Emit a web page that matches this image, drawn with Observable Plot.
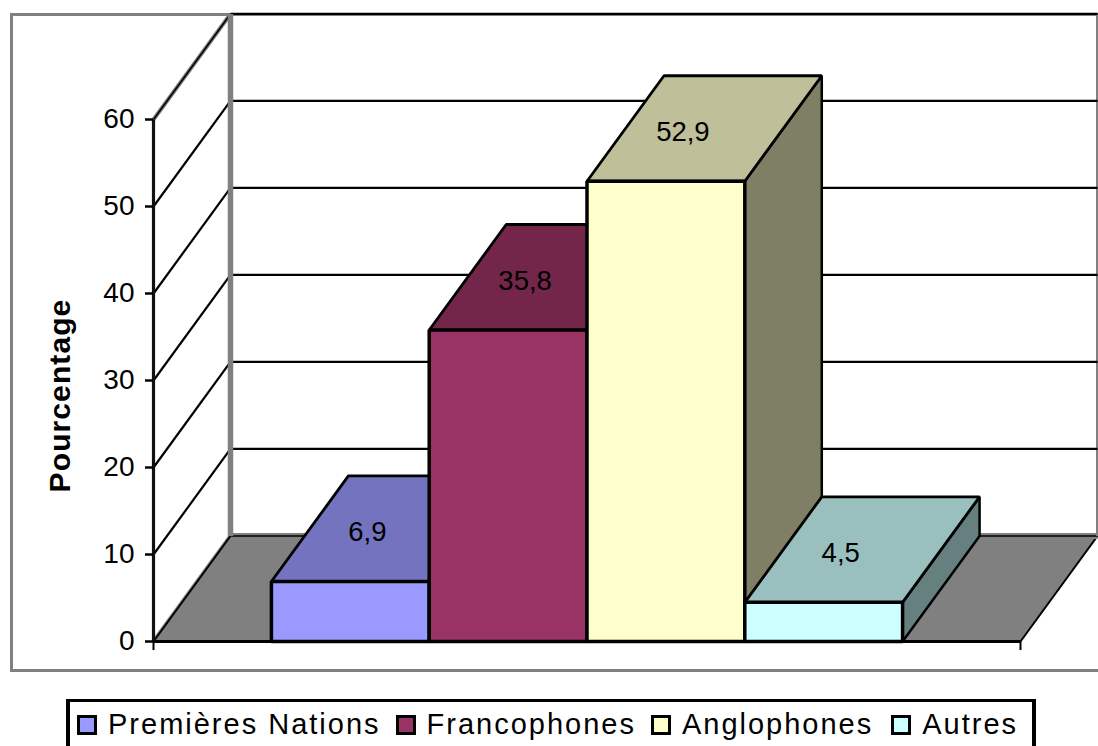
<!DOCTYPE html>
<html lang="fr">
<head>
<meta charset="utf-8">
<script src="https://cdn.jsdelivr.net/npm/d3@7"></script>
<script src="https://cdn.jsdelivr.net/npm/@observablehq/plot@0.6"></script>
<style>
html,body{margin:0;padding:0;background:#fff;width:1098px;height:746px;overflow:hidden;font-family:"Liberation Sans",Arial,sans-serif}
#wrap{position:relative;width:1098px;height:746px;overflow:hidden}
#outer{position:absolute;left:10px;top:13px;width:1100px;height:653px;border:3px solid #808080}
#chart{position:absolute;left:0;top:0}
#chart svg{display:block}
#legend{position:absolute;left:66px;top:699px;width:955px;height:60px;border:4px solid #000;border-width:3.5px 4px;display:flex;align-items:flex-start;padding:6px 0 0 7px;font-size:29px;letter-spacing:2px;line-height:32px;color:#000;white-space:nowrap}
.sw{width:14px;height:14px;border:3px solid #000;margin:7px 11px 0 0;flex:none}
.it{display:flex;margin-right:15px}
.it:nth-child(3){margin-right:18px}
</style>
</head>
<body>
<div id="wrap">
<div id="outer"></div>
<div id="chart"></div>
<div id="legend"></div>
</div>
<script>
const categories = ["Premières Nations", "Francophones", "Anglophones", "Autres"];
const values = [6.9, 35.8, 52.9, 4.5];
const frontColors = ["#9999FF", "#993366", "#FFFFCC", "#CCFFFF"];
const topColors = ["#7373BF", "#732649", "#BFBF99", "#99BFBF"];
const sideColors = ["#666680", "#4D1933", "#7F7F66", "#668080"];
const yTicks = [0, 10, 20, 30, 40, 50, 60];
const wallTicks = [10, 20, 30, 40, 50, 60];

// Oblique projection: a unit of depth shifts a point along both data axes
const depthX = 0.0888, depthY = 12.13;
const barWidth = 0.182, groupStart = 0.136;
const P = (x, v, d = 0) => ({x: x + d * depthX, y: v + d * depthY});
const poly = (pts, fill, stroke = "#000", strokeWidth = 2) =>
  Plot.line(pts, {x: "x", y: "y", fill, stroke, strokeWidth, curve: "linear-closed", strokeLinejoin: "miter"});
const seg = (pts, stroke = "#000", strokeWidth = 2) =>
  Plot.line(pts, {x: "x", y: "y", stroke, strokeWidth, strokeLinecap: "butt"});

const marks = [];
const topV = yTicks[yTicks.length - 1];
// floor
marks.push(poly([P(0,0,0),P(1,0,0),P(1,0,1),P(0,0,1)], "#808080", "#000", 2));
marks.push(seg([P(0,0,1),P(1,0,1)], "#808080", 6));
marks.push(seg([P(0,0,1),P(1,0,1)], "#000", 1.5));
marks.push(seg([P(1,0,1),P(1,topV,1)], "#808080", 3));
marks.push(seg([P(0,topV,0),P(0,topV,1)], "#808080", 4));
marks.push(seg([P(0,0,0),P(0,0,1)], "#808080", 4));
marks.push(seg([P(0,0,0),P(0,0,1)], "#000", 2));
// wall grid
for (const v of wallTicks) {
  marks.push(seg([P(0,v,0),P(0,v,1)], "#000", v === topV ? 1.5 : 2.2));
  marks.push(seg([P(0,v,1),P(1,v,1)], "#000", 2.2));
}
marks.push(seg([P(0,0,1),P(0,topV,1)], "#808080", 5.5));
// bars
categories.forEach((c, i) => {
  const x0 = groupStart + i * barWidth, x1 = x0 + barWidth, v = values[i];
  marks.push(poly([P(x1,0,0),P(x1,v,0),P(x1,v,1),P(x1,0,1)], sideColors[i], "#000", 2.5));
  marks.push(poly([P(x0,v,0),P(x1,v,0),P(x1,v,1),P(x0,v,1)], topColors[i], "#000", 2.8));
  marks.push(poly([P(x0,0),P(x1,0),P(x1,v),P(x0,v)], frontColors[i], "#000", 3.5));
});
// axes
marks.push(seg([P(0,0),P(0,topV)], "#111", 3.2));
marks.push(seg([P(0,0),P(1,0)], "#000", 3.2));
marks.push(Plot.axisY({ticks: yTicks, tickSize: 8, tickPadding: 11, fontSize: 28, label: null, strokeWidth: 2.5, fill: "#000", stroke: "#000"}));
marks.push(Plot.axisX({ticks: [0, 1], tickSize: 9, tickFormat: () => "", label: null, strokeWidth: 2}));
// value labels
marks.push(Plot.text(values, {
  x: (d, i) => groupStart + (i + 0.5) * barWidth,
  y: d => d,
  text: d => String(d).replace(".", ","),
  dx: 17, dy: -49, fontSize: 27.5, fill: "#000"
}));
// y title
marks.push(Plot.text(["Pourcentage"], {
  frameAnchor: "left", dx: -93, dy: 15, rotate: -90, textAnchor: "middle",
  fontSize: 30, fontWeight: "bold", fill: "#000"
}));

const plot = Plot.plot({
  width: 1098, height: 746,
  marginLeft: 153, marginRight: 78, marginTop: 119, marginBottom: 105,
  x: {domain: [0, 1], axis: null},
  y: {domain: [0, topV], axis: null},
  style: {fontFamily: '"Liberation Sans", Arial, sans-serif', background: "transparent", overflow: "visible"},
  marks
});
d3.select(plot).selectAll("text").filter(function () { return this.textContent === "Pourcentage"; }).style("letter-spacing", "1.1px");
document.getElementById("chart").append(plot);

const legend = document.getElementById("legend");
categories.forEach((c, i) => {
  const it = document.createElement("div"); it.className = "it";
  const sw = document.createElement("div"); sw.className = "sw"; sw.style.background = frontColors[i];
  const tx = document.createElement("span"); tx.textContent = c;
  it.append(sw, tx); legend.append(it);
});
</script>
</body>
</html>
